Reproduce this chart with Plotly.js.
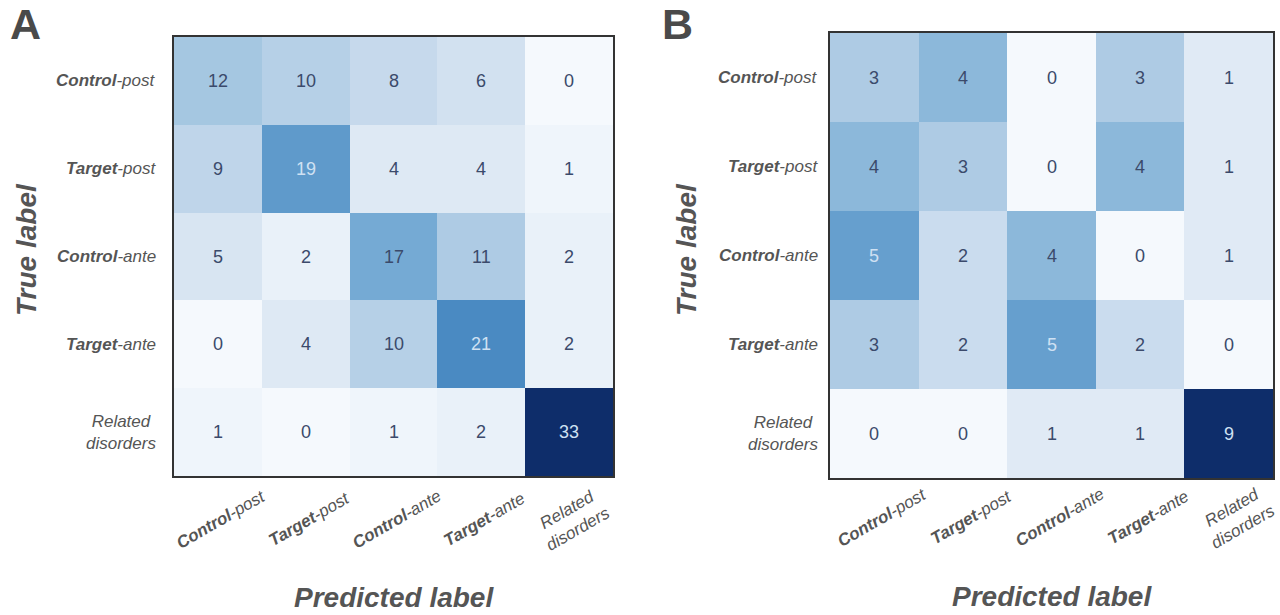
<!DOCTYPE html>
<html>
<head>
<meta charset="utf-8">
<script src="https://cdn.plot.ly/plotly-3.0.1.min.js"></script>
<style>html,body{margin:0;padding:0;background:#fff;}#chart{width:1280px;height:615px;}</style>
</head>
<body>
<div id="chart"></div>
<script>
// ---- data ----
const categories = ["Control-post", "Target-post", "Control-ante", "Target-ante", "Related disorders"];
const tickLabels = [
  "<b>Control</b>-post",
  "<b>Target</b>-post",
  "<b>Control</b>-ante",
  "<b>Target</b>-ante",
  "Related<br>disorders"
];
const matrixA = [
  [12, 10, 8, 6, 0],
  [9, 19, 4, 4, 1],
  [5, 2, 17, 11, 2],
  [0, 4, 10, 21, 2],
  [1, 0, 1, 2, 33]
];
const matrixB = [
  [3, 4, 0, 3, 1],
  [4, 3, 0, 4, 1],
  [5, 2, 4, 0, 1],
  [3, 2, 5, 2, 0],
  [0, 0, 1, 1, 9]
];
const panelLetters = ["A", "B"];
const xTitle = "Predicted label";
const yTitle = "True label";

// ---- styling ----
const FONT = "Liberation Sans, Arial, sans-serif";
const GREY = "#555555";
const blues = [
  [0.0, "#f5f9fd"], [0.125, "#dde8f4"], [0.25, "#c5d8ec"], [0.375, "#a2c5e0"],
  [0.5, "#7aaed6"], [0.625, "#4d8dc4"], [0.75, "#2f6fb0"], [0.875, "#164d95"], [1.0, "#0e2d6a"]
];
const W = 1280, H = 615;
const px = v => v / W, py = v => 1 - v / H;

const panels = [
  {z: matrixA, xa: "x", ya: "y", left: 174, right: 613, top: 37, bottom: 476,
   ytickRight: 158, xtickY: 519, xtickShift: 3, letterX: 8, ytitleX: 26, xtitleY: 597},
  {z: matrixB, xa: "x2", ya: "y2", left: 830, right: 1273, top: 33, bottom: 478,
   ytickRight: 820, xtickY: 517, xtickShift: 8, letterX: 660, ytitleX: 686, xtitleY: 596}
];

const traces = [];
const annotations = [];
const layout = {
  width: W, height: H,
  margin: {l: 0, r: 0, t: 0, b: 0},
  paper_bgcolor: "#ffffff", plot_bgcolor: "#ffffff",
  font: {family: FONT, color: GREY},
  showlegend: false
};

panels.forEach((p, k) => {
  const flat = p.z.flat();
  const zmin = Math.min(...flat), zmax = Math.max(...flat);
  traces.push({
    type: "heatmap", z: p.z, x: categories, y: categories,
    xaxis: p.xa, yaxis: p.ya,
    colorscale: blues, zmin: zmin, zmax: zmax, showscale: false,
    hoverinfo: "x+y+z"
  });
  const xk = k === 0 ? "xaxis" : "xaxis2";
  const yk = k === 0 ? "yaxis" : "yaxis2";
  layout[xk] = {
    domain: [px(p.left), px(p.right)], anchor: p.ya,
    type: "category", categoryarray: categories, range: [-0.5, 4.5],
    showticklabels: false, ticks: "", showgrid: false, zeroline: false,
    showline: true, mirror: true, linecolor: "#333333", linewidth: 2
  };
  layout[yk] = {
    domain: [py(p.bottom), py(p.top)], anchor: p.xa,
    type: "category", categoryarray: categories, range: [4.5, -0.5],
    showticklabels: false, ticks: "", showgrid: false, zeroline: false,
    showline: true, mirror: true, linecolor: "#333333", linewidth: 2
  };
  // cell values
  const thr = zmin + 0.55 * (zmax - zmin);
  p.z.forEach((row, i) => row.forEach((v, j) => {
    annotations.push({
      xref: p.xa, yref: p.ya, x: categories[j], y: categories[i],
      text: String(v), showarrow: false,
      font: {family: FONT, size: 18, color: v > thr ? "#cfe1f3" : "#3b4a6b"}
    });
  }));
  // tick labels
  categories.forEach((c, i) => {
    annotations.push({
      xref: "paper", yref: p.ya, x: px(p.ytickRight), y: c,
      xanchor: "right", yanchor: "middle", align: "center",
      text: "<i>" + tickLabels[i] + "</i>", showarrow: false,
      font: {family: FONT, size: 17, color: GREY}
    });
    annotations.push({
      xref: p.xa, yref: "paper", x: c, y: py(p.xtickY), xshift: p.xtickShift,
      xanchor: "center", yanchor: "middle", align: "center", textangle: -30,
      text: "<i>" + tickLabels[i] + "</i>", showarrow: false,
      font: {family: FONT, size: 17, color: GREY}
    });
  });
  // axis titles
  annotations.push({
    xref: "paper", yref: "paper", x: px((p.left + p.right) / 2), y: py(p.xtitleY),
    xanchor: "center", yanchor: "middle", showarrow: false,
    text: "<b><i>" + xTitle + "</i></b>", font: {family: FONT, size: 28, color: GREY}
  });
  annotations.push({
    xref: "paper", yref: "paper", x: px(p.ytitleX), y: py(250),
    xanchor: "center", yanchor: "middle", showarrow: false, textangle: -90,
    text: "<b><i>" + yTitle + "</i></b>", font: {family: FONT, size: 28, color: GREY}
  });
  // panel letter
  annotations.push({
    xref: "paper", yref: "paper", x: px(p.letterX), y: py(24),
    xanchor: "left", yanchor: "middle", showarrow: false,
    text: "<b>" + panelLetters[k] + "</b>", font: {family: FONT, size: 43, color: "#4a4a4a"}
  });
});

layout.annotations = annotations;
Plotly.newPlot("chart", traces, layout, {displayModeBar: false, staticPlot: true});
</script>
</body>
</html>
